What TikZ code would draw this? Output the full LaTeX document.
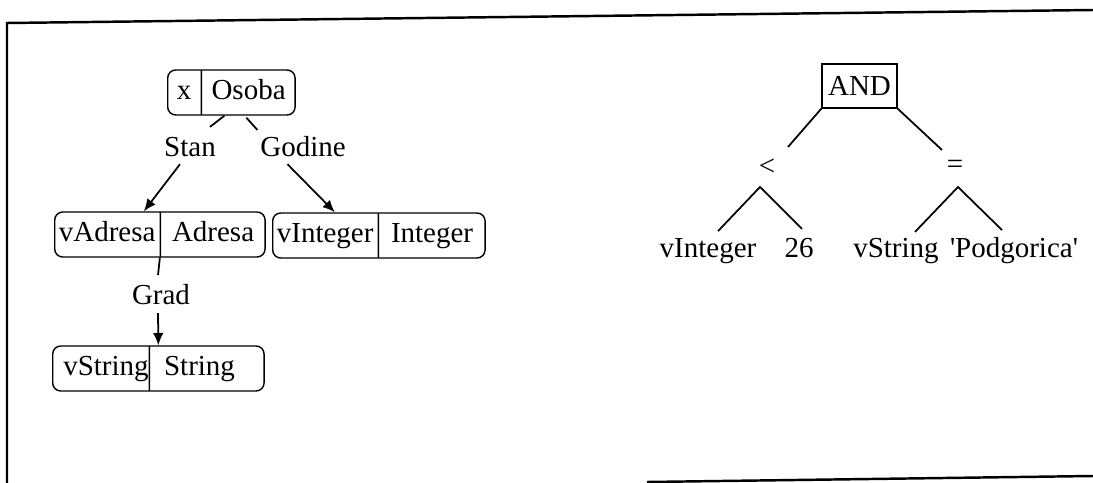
\documentclass[tikz,border=0pt]{standalone}
\usepackage{fontspec}
\setmainfont{Liberation Serif}
\usetikzlibrary{positioning,calc,shapes.multipart,arrows.meta}
\tikzstyle{polje} = [draw, rectangle split, rectangle split horizontal, rectangle split parts=2, rounded corners=0.16cm, inner xsep=0pt, inner ysep=0pt, minimum height=0.9cm, anchor=west, line width=0.8pt]
\tikzstyle{oznaka} = [inner sep=0pt, anchor=base]
\tikzstyle{cvor} = [draw, rectangle, minimum width=1.5cm, minimum height=0.88cm, inner sep=0pt, line width=0.8pt]
\tikzstyle{list} = [inner sep=0pt, anchor=base]
\newcommand{\mypolje}[4]{\makebox[#1]{\strut #2}\nodepart{two}\makebox[#3]{\strut #4}}

\begin{document}
\begin{tikzpicture}[x=0.02cm, y=-0.02cm, font=\fontsize{16.5}{19}\selectfont, line width=1pt, >={Latex[length=7pt,width=6pt]}]
        \useasboundingbox (0,0) rectangle (1093,483);
        % okvir
        \draw [line width=1.4pt] (7,483) -- (7,23) -- (1093,10);
        \draw [line width=1.4pt] (647,482) -- (1093,476);

        % lijevo stablo
        \node [polje] (osoba) at (167,92.5) {\mypolje{0.66cm}{x}{1.86cm}{Osoba}};
        \node [oznaka] (stan) at (190,157) {Stan};
        \node [oznaka] (godine) at (303,157) {Godine};
        \node [polje] (vadresa) at (54,234.5) {\mypolje{2.1cm}{vAdresa}{2.08cm}{Adresa}};
        \node [polje] (vinteger) at (272,235.5) {\mypolje{2.1cm}{vInteger}{2.12cm}{Integer}};
        \node [oznaka] (grad) at (161,304) {Grad};
        \node [polje] (vstring) at (52,368.5) {\mypolje{1.92cm}{\hfill vString}{2.28cm}{\hspace{0.28cm}String\hfill}};

        \draw ($(osoba.south)+(-7,0)$) -- ($(stan.north)+(20,-10)$);
        \draw [->] ($(stan.south)+(-10,6)$) -- ($(vadresa.north)+(-16,0)$);
        \draw ($(osoba.south)+(15,2)$) -- ($(godine.north west)+(-2,-6)$);
        \draw [->] ($(godine.south west)+(28,6)$) -- ($(vinteger.north)+(-44,0)$);
        \draw (vadresa.south) -- ($(grad.north)+(-3,-8)$);
        \draw [->] ($(grad.south)+(-3,8)$) -- (vstring.north);

        % desno stablo
        \node [cvor] (and) at (859.5,86) {AND};
        \node [inner sep=0pt] (manje) at (767,167) {<};
        \node [inner sep=0pt] (jednako) at (955,167) {=};
        \node [list] (vint) at (708,257) {vInteger};
        \node [list] (broj) at (799,257) {26};
        \node [list] (vstr) at (896,257) {vString};
        \node [list] (podg) at (1014,257) {\textquotesingle Podgorica\textquotesingle};

        \draw (and.south west) -- ($(manje)+(21,-20)$);
        \draw (and.south east) -- ($(jednako)+(-13,-17)$);
        \draw ($(vint.north)+(10,-6)$) -- ($(manje)+(-7,20)$) -- ($(broj.north)+(3,-8)$);
        \draw ($(vstr.north)+(19,-5)$) -- ($(jednako)+(3,20)$) -- ($(podg.north)+(-12,-6)$);
\end{tikzpicture}
\end{document}
